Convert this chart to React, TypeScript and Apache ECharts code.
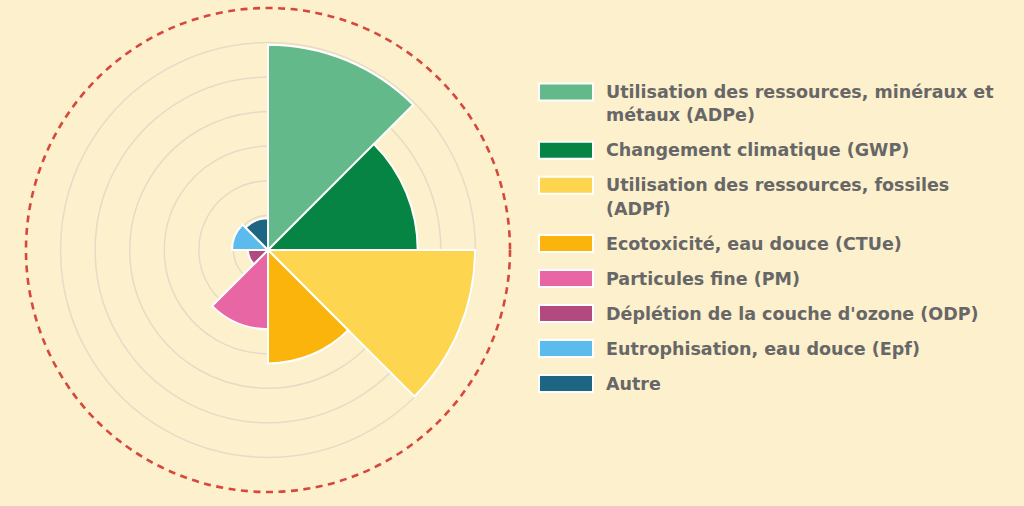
import React, { useEffect, useRef } from 'react';
import * as echarts from 'echarts';

// Catégories d'impact (texte de légende, retour à la ligne manuel)
const labels = [
  'Utilisation des ressources, minéraux et\nmétaux (ADPe)',
  'Changement climatique (GWP)',
  'Utilisation des ressources, fossiles\n(ADPf)',
  'Ecotoxicité, eau douce (CTUe)',
  'Particules fine (PM)',
  "Déplétion de la couche d'ozone (ODP)",
  'Eutrophisation, eau douce (Epf)',
  'Autre'
];

// Valeurs (unités de la grille radiale)
const values = [5.94, 4.33, 5.99, 3.28, 2.29, 0.58, 1.04, 0.92];

const colors = [
  '#63b98a',
  '#058444',
  '#fed54f',
  '#fbb40b',
  '#e966a5',
  '#b24a7f',
  '#5bbbec',
  '#1d6683'
];

const radiusMax = 7;

const BG = '#fdf0cc';
const LEGEND_X = 539;
const LEGEND_TOP = 92;
const ITEM_STEP = 35;
const LINE_H = 23.3;

const App: React.FC = () => {
  const chartRef = useRef<HTMLDivElement>(null);

  useEffect(() => {
    if (!chartRef.current) return;
    const chart = echarts.init(chartRef.current, undefined, { renderer: 'svg' });

    // légende dessinée à la main : le carré est aligné sur la 1re ligne
    const legendItems: any[] = [];
    let y = LEGEND_TOP;
    labels.forEach((label, i) => {
      const lines = label.split('\n').length;
      legendItems.push({
        type: 'rect',
        shape: { x: LEGEND_X, y: y - 8.5, width: 54, height: 17 },
        style: { fill: colors[i], stroke: '#fff', lineWidth: 2 }
      });
      legendItems.push({
        type: 'text',
        x: 606,
        y: y - LINE_H / 2,
        style: {
          text: label,
          font: 'bold 17.5px "DejaVu Sans", sans-serif',
          fill: '#676767',
          lineHeight: LINE_H,
          verticalAlign: 'top',
          align: 'left'
        }
      });
      y += ITEM_STEP + (lines - 1) * LINE_H;
    });

    const splitColors = Array.from({ length: radiusMax + 1 }, (_, i) =>
      i === radiusMax ? 'rgba(0,0,0,0)' : '#e4dcc6'
    );

    chart.setOption({
      animation: false,
      backgroundColor: BG,
      polar: { center: [268, 250], radius: 242 },
      angleAxis: {
        type: 'category',
        data: labels,
        startAngle: 90,
        clockwise: true,
        axisLine: {
          show: true,
          lineStyle: { color: '#d6483d', width: 2.6, type: [7, 5.5] }
        },
        axisTick: { show: false },
        axisLabel: { show: false },
        splitLine: { show: false }
      },
      radiusAxis: {
        type: 'value',
        min: 0,
        max: radiusMax,
        interval: 1,
        axisLine: { show: false },
        axisTick: { show: false },
        axisLabel: { show: false },
        splitLine: {
          show: true,
          lineStyle: { color: splitColors, width: 1.5 }
        }
      },
      series: [
        {
          type: 'bar',
          coordinateSystem: 'polar',
          barCategoryGap: '0%',
          data: values.map((v, i) => ({ value: v, itemStyle: { color: colors[i] } })),
          itemStyle: { borderColor: '#ffffff', borderWidth: 2 }
        }
      ],
      graphic: legendItems
    });

    return () => {
      chart.dispose();
    };
  }, []);

  return (
    <div
      ref={chartRef}
      style={{ position: 'fixed', left: 0, top: 0, width: 1024, height: 506, background: BG }}
    />
  );
};

export default App;
